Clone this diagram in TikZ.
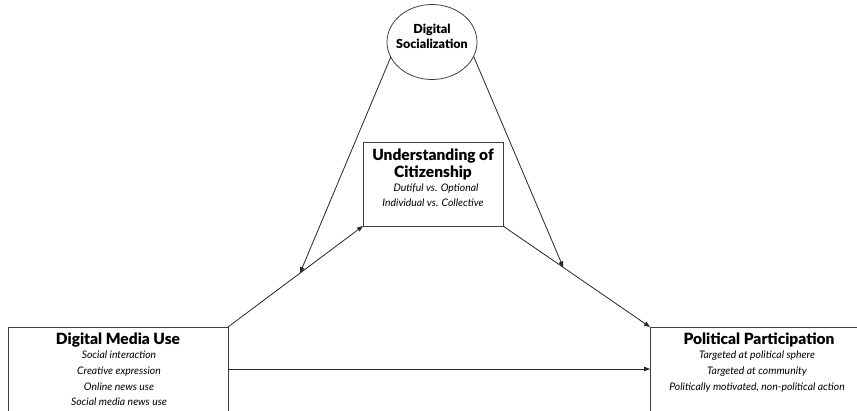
\documentclass[tikz,border=0pt]{standalone}
\usepackage{fontspec}
\setmainfont{Lato}[BoldFont={Lato Black}]
\usetikzlibrary{shapes.geometric,arrows.meta,calc}
\begin{document}
\begin{tikzpicture}[x=1pt,y=-1pt,
  frame/.style={draw=black!75,line width=0.8pt,inner sep=0pt,outer sep=0pt},
  conn/.style={draw=black!85,line width=0.8pt,-{Triangle[length=6pt,width=4.5pt]}},
  ttl/.style={font=\bfseries\fontsize{15.5}{17}\selectfont,align=center,inner sep=0pt},
  sub/.style={font=\itshape\fontsize{10.4}{15.7}\selectfont,align=center,inner sep=0pt}]
\useasboundingbox (0,0) rectangle (857,410);
\clip (0,0) rectangle (857,410);

% construct nodes
\node[frame,ellipse,minimum width=90pt,minimum height=75pt] (ds) at (432,42) {};
\node[font=\bfseries\fontsize{12.5}{15}\selectfont,align=center,inner sep=0pt] (dst) at (432,36) {Digital\\Socialization};

\node[frame,rectangle,anchor=north west,minimum width=140pt,minimum height=84pt] (cit) at (363,142) {};
\node[ttl,anchor=north,font=\bfseries\fontsize{15.5}{17}\selectfont] (citt) at (433,149) {Understanding of\\Citizenship};
\node[sub,anchor=north,font=\itshape\fontsize{10.4}{15}\selectfont] (cits) at (433,184) {\hspace{6pt}Dutiful vs. Optional\\Individual vs. Collective};

% outcome boxes run past the lower edge
\node[frame,rectangle,anchor=north west,minimum width=220pt,minimum height=110pt] (dmu) at (8,327) {};
\node[ttl,anchor=north] (dmut) at (118,333) {Digital Media Use};
\node[sub,anchor=north] (dmus) at (119,351) {Social interaction\\Creative expression\\Online news use\\Social media news use};

\node[frame,rectangle,anchor=north west,minimum width=240pt,minimum height=110pt] (pp) at (650,327) {};
\node[ttl,anchor=north] (ppt) at (759,333) {Political Participation};
\node[sub,anchor=north] (pps) at (757,351) {Targeted at political sphere\\Targeted at community\\Politically motivated, non-political action};

% paths between constructs
\draw[conn] (dmu.north east) -- (cit.south west);
\draw[conn] (cit.south east) -- (pp.north west);
\coordinate (h) at ($(dmu.north east)+(0,42)$);
\draw[conn] (h) -- (h -| pp.west);

% moderation by digital socialization
\coordinate (mL) at ($(dmu.north east)!0.533!(cit.south west)$);
\coordinate (mR) at ($(cit.south east)!0.41!(pp.north west)$);
\draw[conn] (ds.200) -- (mL);
\draw[conn] (ds.-19) -- (mR);
\end{tikzpicture}
\end{document}
